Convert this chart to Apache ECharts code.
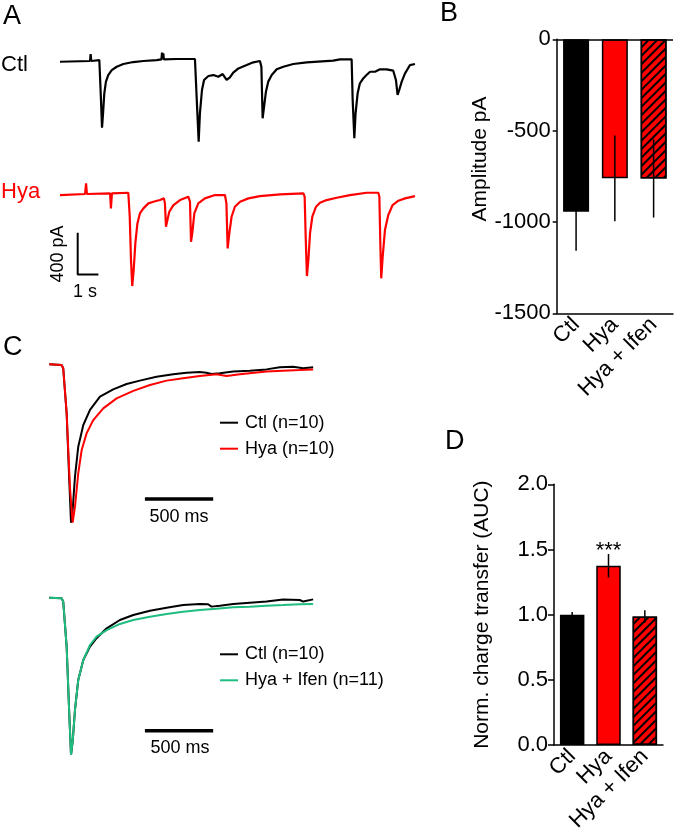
<!DOCTYPE html>
<html>
<head>
<meta charset="utf-8">
<script src="https://cdn.jsdelivr.net/npm/echarts@6/dist/echarts.min.js"></script>
<style>
  html, body { margin: 0; padding: 0; background: #fff; }
  #chart { width: 675px; height: 839px; }
</style>
</head>
<body>
<div id="chart"></div>
<script>
// A: example sweeps, [time s, current pA]
const ctlSweep = [
  [0, 0], [1.45, 7], [1.48, 74], [1.51, 7], [1.90, 16], [1.93, 10], [1.98, -366], [2.03, -632],
  [2.08, -495], [2.14, -303], [2.22, -191], [2.33, -128], [2.50, -80], [2.74, -48], [3.06, -22],
  [3.54, -3], [4.03, 7], [4.67, 16], [4.90, 23], [4.93, 87], [4.96, 23], [4.99, 80], [5.02, 23],
  [5.64, 26], [6.52, 26], [6.57, 23], [6.63, -463], [6.70, -767], [6.76, -495], [6.86, -271],
  [6.96, -175], [7.17, -137], [7.41, -128], [7.65, -144], [7.86, -118], [8.05, -175], [8.21, -150],
  [8.37, -105], [8.62, -64], [9.02, -32], [9.34, -6], [9.66, 7], [9.73, -48], [9.79, -543],
  [9.86, -431], [9.95, -287], [10.06, -191], [10.23, -128], [10.47, -73], [10.79, -48], [11.27, -22],
  [11.92, -6], [13.20, 10], [13.53, 23], [14.09, 23], [14.14, -366], [14.22, -734], [14.28, -495],
  [14.38, -303], [14.49, -207], [14.65, -160], [14.81, -128], [14.98, -96], [15.22, -96], [15.46, -73],
  [15.78, -73], [16.10, -86], [16.23, -175], [16.31, -319], [16.39, -271], [16.51, -191], [16.67, -112],
  [16.91, -32], [17.15, -22]
];
const hyaSweep = [
  [0, 0], [1.21, 10], [1.26, 112], [1.30, 10], [2.42, 16], [2.46, -128], [2.51, 16], [3.30, 22],
  [3.37, -208], [3.43, -623], [3.49, -873], [3.56, -719], [3.64, -464], [3.74, -272], [3.86, -176],
  [4.03, -128], [4.27, -80], [4.51, -64], [4.83, -48], [5.02, -32], [5.07, -80], [5.12, -304],
  [5.19, -240], [5.28, -160], [5.48, -96], [5.80, -48], [6.20, -16], [6.28, -64], [6.33, -448],
  [6.39, -368], [6.49, -176], [6.68, -80], [7.00, -32], [7.49, 0], [7.97, 0], [8.04, -80],
  [8.10, -512], [8.18, -368], [8.29, -208], [8.45, -112], [8.70, -64], [9.10, -32], [9.66, -10],
  [10.63, 6], [11.76, 16], [11.82, -16], [11.87, -400], [11.93, -777], [12.00, -623], [12.08, -368],
  [12.19, -208], [12.37, -112], [12.56, -74], [12.88, -48], [13.37, -26], [14.01, 0], [14.81, 22],
  [15.38, 22], [15.43, -16], [15.48, -496], [15.52, -799], [15.59, -591], [15.70, -336], [15.86, -192],
  [16.07, -96], [16.35, -54], [16.67, -32], [17.15, -10]
];

// C: averaged EPSCs normalised to peak, [time ms, normalised current]
const avgCtlA = [
  [0, 0], [90, -0.004], [102, -0.025], [127, -0.309], [146, -0.731], [159, -1.0], [171, -0.92],
  [188, -0.709], [212, -0.52], [249, -0.383], [298, -0.288], [371, -0.204], [468, -0.158],
  [566, -0.124], [663, -0.103], [785, -0.078], [907, -0.063], [1005, -0.053], [1102, -0.048],
  [1151, -0.053], [1188, -0.061], [1249, -0.057], [1346, -0.046], [1468, -0.040], [1590, -0.032],
  [1688, -0.019], [1785, -0.015], [1859, -0.025], [1932, -0.019]
];
const avgHya = [
  [0, 0], [90, -0.004], [102, -0.025], [127, -0.309], [151, -0.773], [171, -1.0], [188, -0.899],
  [212, -0.688], [237, -0.541], [273, -0.436], [322, -0.352], [395, -0.278], [493, -0.215],
  [615, -0.168], [737, -0.131], [859, -0.103], [980, -0.088], [1102, -0.074], [1224, -0.063],
  [1298, -0.074], [1395, -0.063], [1590, -0.046], [1712, -0.040], [1834, -0.036], [1932, -0.032]
];
const avgCtlB = [
  [0, 0], [90, -0.004], [102, -0.025], [127, -0.311], [146, -0.735], [159, -1.0], [171, -0.915],
  [188, -0.714], [212, -0.523], [249, -0.396], [298, -0.311], [346, -0.258], [420, -0.195],
  [517, -0.142], [615, -0.110], [737, -0.083], [859, -0.064], [980, -0.047], [1102, -0.040],
  [1163, -0.042], [1188, -0.057], [1249, -0.051], [1346, -0.040], [1468, -0.032], [1590, -0.025],
  [1712, -0.011], [1834, -0.015], [1859, -0.025], [1932, -0.011]
];
const avgHyaIfen = [
  [0, 0], [90, -0.004], [102, -0.025], [127, -0.311], [146, -0.735], [159, -1.0], [171, -0.915],
  [188, -0.714], [212, -0.523], [249, -0.396], [298, -0.301], [346, -0.248], [420, -0.206],
  [517, -0.167], [615, -0.142], [737, -0.121], [859, -0.104], [980, -0.089], [1102, -0.078],
  [1224, -0.070], [1346, -0.061], [1468, -0.057], [1590, -0.051], [1712, -0.047], [1834, -0.042],
  [1932, -0.040]
];

// B and D: group means +- SEM
const groups = ['Ctl', 'Hya', 'Hya + Ifen'];
const ampMean = [-944, -761, -762];
const ampSem = [214, 235, 214];
const aucMean = [1.0, 1.375, 0.985];
const aucSem = [0.02, 0.09, 0.048];

const FONT = 'Liberation Sans, Arial, sans-serif';
const RED = '#ff0000';
const GREEN = '#1fbd80';
const barColors = ['#000', RED, RED];

const chart = echarts.init(document.getElementById('chart'));

const hatch = {
  symbol: 'rect', symbolSize: 1, color: '#000',
  dashArrayX: [1, 0], dashArrayY: [1.4, 3.6], rotation: -Math.PI / 4
};

const barData = (vals) => vals.map((v, i) => ({
  value: v,
  itemStyle: Object.assign(
    { color: barColors[i], borderColor: '#000', borderWidth: 1.5 },
    i === 2 ? { decal: hatch } : {}
  )
}));

const errData = (mean, sem) => mean.map((m, i) => [i, m - sem[i], m + sem[i]]);

const errSeries = (idx, mean, sem) => ({
  type: 'custom', xAxisIndex: idx, yAxisIndex: idx, z: 5,
  data: errData(mean, sem),
  encode: { x: 0, y: [1, 2] },
  renderItem: (params, api) => {
    const a = api.coord([api.value(0), api.value(1)]);
    const b = api.coord([api.value(0), api.value(2)]);
    return { type: 'line', shape: { x1: a[0], y1: a[1], x2: b[0], y2: b[1] }, style: { stroke: '#000', lineWidth: 1.5 } };
  }
});

const trace = (name, data, idx, color, z, w) => ({
  name, type: 'line', data, xAxisIndex: idx, yAxisIndex: idx, z: z || 2,
  showSymbol: false, symbol: 'none',
  lineStyle: { color, width: w || 2 }, itemStyle: { color }
});

const hidden = (gridIndex, min, max) => ({ type: 'value', gridIndex, min, max, show: false });

const catAxis = (gridIndex) => ({
  type: 'category', gridIndex, data: groups,
  axisLine: { onZero: false, lineStyle: { color: '#000', width: 1.5 } },
  axisTick: { alignWithLabel: true, length: 5, lineStyle: { color: '#000', width: 1.5 } },
  axisLabel: { rotate: 45, interval: 0, margin: 8, color: '#000', fontSize: 22, fontFamily: FONT }
});

const valAxis = (gridIndex, min, max, interval, fmt, tick) => ({
  type: 'value', gridIndex, min, max, interval,
  splitLine: { show: false },
  axisLine: { show: true, lineStyle: { color: '#000', width: 1.5 } },
  axisTick: { show: true, length: tick, lineStyle: { color: '#000', width: 1.5 } },
  axisLabel: { color: '#000', fontSize: 22, fontFamily: FONT, margin: 6, formatter: fmt }
});

const txt = (text, x, y, size, extra) => ({
  type: 'text', x, y, rotation: (extra && extra.rotation) || 0,
  style: {
    text, fill: (extra && extra.color) || '#000', fontSize: size, fontFamily: FONT,
    align: (extra && extra.align) || 'center', verticalAlign: 'middle'
  }
});

const legendStyle = { color: '#000', fontSize: 18, fontFamily: FONT, lineHeight: 22, padding: [0, 0, 0, 2] };

const option = {
  animation: false,
  backgroundColor: '#fff',
  textStyle: { fontFamily: FONT },
  grid: [
    { left: 60, top: 51.3, width: 356, height: 104.25, outerBoundsMode: 'none' },
    { left: 60, top: 174.2, width: 356, height: 125.1, outerBoundsMode: 'none' },
    { left: 556.7, top: 39.3, width: 116.3, height: 274, outerBoundsMode: 'none' },
    { left: 49.3, top: 356.4, width: 264, height: 174.2, outerBoundsMode: 'none' },
    { left: 49.3, top: 589.8, width: 264, height: 173, outerBoundsMode: 'none' },
    { left: 554, top: 484.3, width: 109, height: 260.7, outerBoundsMode: 'none' }
  ],
  xAxis: [
    hidden(0, 0, 17.2),
    hidden(1, 0, 17.2),
    catAxis(2),
    hidden(3, 0, 1933),
    hidden(4, 0, 1933),
    catAxis(5)
  ],
  yAxis: [
    hidden(0, -900, 100),
    hidden(1, -1000, 200),
    valAxis(2, -1500, 0, 500, (v) => String(v), 4),
    hidden(3, -1.05, 0.05),
    hidden(4, -1.05, 0.05),
    Object.assign(valAxis(5, 0, 2, 0.5, (v) => v.toFixed(1), 6), {
      name: 'Norm. charge transfer (AUC)', nameLocation: 'middle', nameGap: 61,
      nameTextStyle: { color: '#000', fontSize: 21, fontFamily: FONT }
    })
  ],
  legend: [
    {
      data: ['Ctl (n=10)', 'Hya (n=10)'], orient: 'vertical', left: 215, top: 406.7,
      icon: 'rect', itemWidth: 18, itemHeight: 2, itemGap: 4, selectedMode: false,
      textStyle: legendStyle
    },
    {
      data: ['Ctl (n=10)', 'Hya + Ifen (n=11)'], orient: 'vertical', left: 215, top: 638.3,
      icon: 'rect', itemWidth: 18, itemHeight: 2, itemGap: 4, selectedMode: false,
      textStyle: legendStyle
    }
  ],
  series: [
    trace('Ctl sweep', ctlSweep, 0, '#000', 2, 2.2),
    trace('Hya sweep', hyaSweep, 1, RED, 2, 2.2),
    {
      type: 'line', xAxisIndex: 1, yAxisIndex: 1, symbol: 'none',
      data: [[0.855, -362], [0.855, -762], [1.855, -762]],
      lineStyle: { color: '#000', width: 2 }
    },
    {
      type: 'bar', xAxisIndex: 2, yAxisIndex: 2, barWidth: 26,
      data: barData(ampMean),
      markLine: {
        silent: true, symbol: 'none', label: { show: false },
        lineStyle: { color: '#000', width: 1.5, type: 'solid' },
        data: [{ yAxis: 0 }]
      }
    },
    errSeries(2, ampMean, ampSem),
    trace('Ctl (n=10)', avgCtlA, 3, '#000'),
    trace('Hya (n=10)', avgHya, 3, RED, 3),
    {
      type: 'line', xAxisIndex: 3, yAxisIndex: 3, symbol: 'none',
      data: [[700, -0.85], [1200, -0.85]],
      lineStyle: { color: '#000', width: 3.5 }
    },
    trace('Ctl (n=10)', avgCtlB, 4, '#000'),
    trace('Hya + Ifen (n=11)', avgHyaIfen, 4, GREEN, 3),
    {
      type: 'line', xAxisIndex: 4, yAxisIndex: 4, symbol: 'none',
      data: [[700, -0.847], [1200, -0.847]],
      lineStyle: { color: '#000', width: 3.5 }
    },
    {
      type: 'bar', xAxisIndex: 5, yAxisIndex: 5, barWidth: 24.5,
      data: barData(aucMean).map((d, i) => i === 1 ? Object.assign(d, {
        label: { show: true, position: 'top', distance: 4, formatter: '***', color: '#000', fontSize: 22, fontFamily: FONT }
      }) : d)
    },
    errSeries(5, aucMean, aucSem)
  ],
  graphic: [
    txt('A', 3, 17, 27, { align: 'left' }),
    txt('B', 440, 14, 27, { align: 'left' }),
    txt('C', 3, 348, 27, { align: 'left' }),
    txt('D', 445, 442, 27, { align: 'left' }),
    txt('Ctl', 1, 65, 22, { align: 'left' }),
    txt('Hya', 1, 192, 22, { align: 'left', color: RED }),
    txt('400 pA', 58, 254, 18, { rotation: Math.PI / 2 }),
    txt('1 s', 85, 292, 18),
    txt('500 ms', 179, 517, 18),
    txt('500 ms', 180, 748, 18),
    txt('Amplitude pA', 480, 159, 21, { rotation: Math.PI / 2 })
  ]
};

chart.setOption(option);
</script>
</body>
</html>
